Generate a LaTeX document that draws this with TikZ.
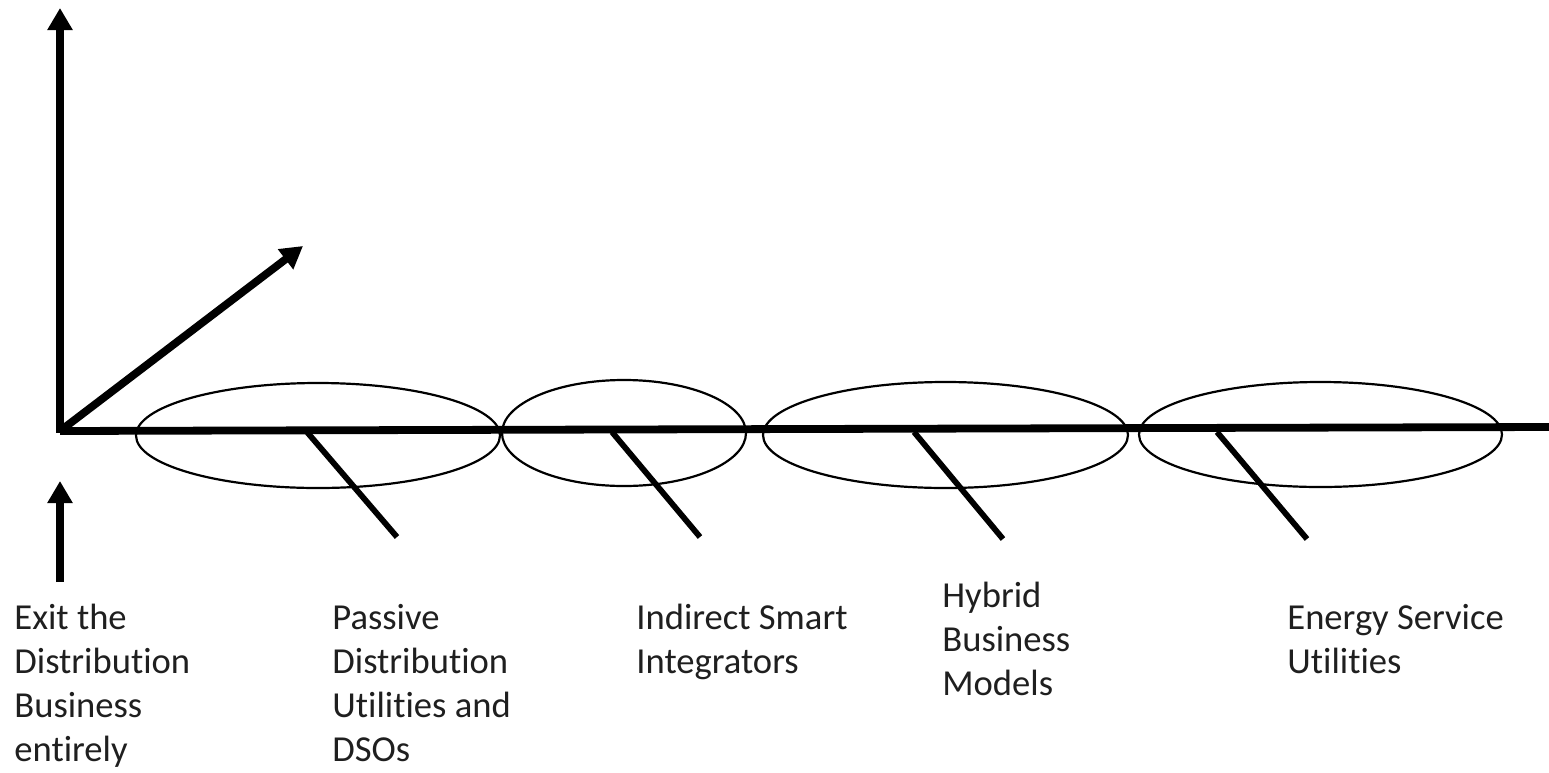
\documentclass[tikz,border=0pt]{standalone}
\usepackage{fontspec}
\setmainfont[Ligatures=NoCommon]{Carlito}
\usetikzlibrary{arrows.meta,shapes.geometric}
\begin{document}
\begin{tikzpicture}[x=0.5pt,y=-0.5pt,
  axis/.style={line width=3.9pt},
  arr/.style={axis,-{Triangle[width=12pt,length=11pt]}},
  oval/.style={draw,ellipse,line width=1.1pt,inner sep=0pt},
  tickline/.style={line width=2.9pt},
  lbl/.style={font=\fontsize{18.3}{22}\selectfont,align=left,inner sep=0pt,anchor=base west,text=black!88}]
\useasboundingbox (0,0) rectangle (1549,772);
% ovals
\node[oval,minimum width=182pt,minimum height=52.5pt] (e1) at (318,435.5) {};
\node[oval,minimum width=122pt,minimum height=53pt] (e2) at (624,433) {};
\node[oval,minimum width=182.5pt,minimum height=53pt] (e3) at (945.5,435) {};
\node[oval,minimum width=181.5pt,minimum height=52.5pt] (e4) at (1320.5,434.5) {};
% coordinates
\coordinate (O) at (60,431);
\coordinate (Otop) at (60,432.9);
\coordinate (Ytip) at (60,8);
\coordinate (Xend) at (1549,427);
\coordinate (Dtip) at (303,246);
\coordinate (Sbot) at (60,582);
\coordinate (Stip) at (60,481);
% axes
\draw[arr] (Otop) -- (Ytip);
\draw[axis] (O) -- (Xend);
\draw[arr] (O) -- (Dtip);
\draw[arr] (Sbot) -- (Stip);
% ticks
\coordinate (t1a) at (307,432); \coordinate (t1b) at (397,537);
\coordinate (t2a) at (612,432); \coordinate (t2b) at (700,537);
\coordinate (t3a) at (914,432); \coordinate (t3b) at (1003,539);
\coordinate (t4a) at (1217,432); \coordinate (t4b) at (1307,539);
\draw[tickline] (t1a) -- (t1b);
\draw[tickline] (t2a) -- (t2b);
\draw[tickline] (t3a) -- (t3b);
\draw[tickline] (t4a) -- (t4b);
% labels (anchor = baseline of last line)
\node[lbl] (l0) at (14,761) {Exit the\\Distribution\\Business\\entirely};
\node[lbl] (l1) at (332,761) {Passive\\Distribution\\Utilities and\\DSOs};
\node[lbl] (l2) at (636,673) {Indirect Smart\\Integrators};
\node[lbl] (l3) at (942,695) {Hybrid\\Business\\Models};
\node[lbl] (l4) at (1287,673) {Energy Service\\Utilities};
\end{tikzpicture}
\end{document}
